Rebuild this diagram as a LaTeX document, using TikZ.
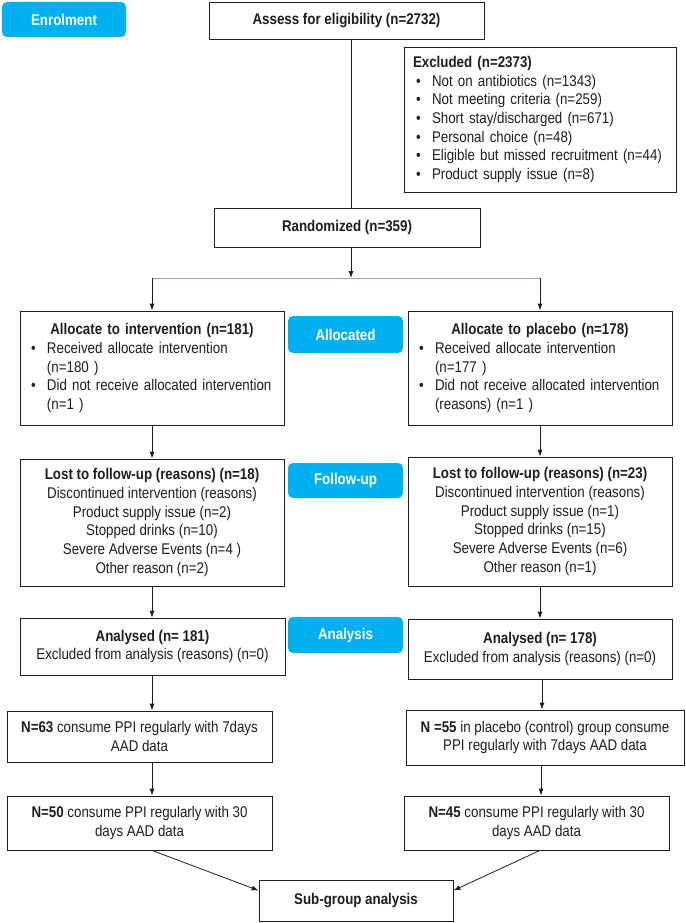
\documentclass[tikz,border=0pt]{standalone}
\usepackage{fontspec}
\setmainfont{Liberation Sans}[FakeStretch=0.86]
\usetikzlibrary{arrows.meta,calc}
\definecolor{labc}{HTML}{00B0F0}
\definecolor{ink}{HTML}{1E1E1E}
\definecolor{bline}{HTML}{8EAADB}
\newcommand\blt{\hspace*{3pt}\makebox[16pt][l]{\textbullet}}
\newcommand\ind{\hspace*{19pt}}
\newcommand\ctr[1]{\makebox[\linewidth][c]{#1}}
\begin{document}
\begin{tikzpicture}[x=1pt,y=-1pt,
  font=\fontsize{15.5}{18.7}\selectfont,
  box/.style={draw=ink, line width=0.8pt, text=ink, inner sep=0pt, fill=white},
  labbox/.style={fill=labc, rounded corners=5pt, text=white, inner sep=0pt,
     font=\fontsize{15.5}{17}\selectfont\bfseries},
  arr/.style={draw=ink, line width=0.8pt, -{Latex[length=7pt,width=5pt]}},
  ln/.style={draw=ink, line width=0.8pt}]
\useasboundingbox (0,0) rectangle (685,923);

% stage labels
\node[labbox, minimum width=124, minimum height=35] (enrol) at (64,19.5) {Enrolment};
\node[labbox, minimum width=115, minimum height=37] (allocated) at (345.5,334.5) {Allocated};
\node[labbox, minimum width=115, minimum height=35] (followup) at (345.5,480.5) {Follow-up};
\node[labbox, minimum width=115, minimum height=36] (analysis) at (345.5,635) {Analysis};

% boxes
\node[box, minimum width=275, minimum height=37] (assess) at (346.5,20.5) {\textbf{Assess for eligibility (n=2732)}};
\node[box, minimum width=272, minimum height=145, text width=254, align=left] (excl) at (540,119.5)
 {\textbf{Excluded (n=2373)}\\
  \blt Not on antibiotics (n=1343)\\
  \blt Not meeting criteria (n=259)\\
  \blt Short stay/discharged (n=671)\\
  \blt Personal choice (n=48)\\
  \blt Eligible but missed recruitment (n=44)\\
  \blt Product supply issue (n=8)};
\node[box, minimum width=266, minimum height=39] (rand) at (347,227.5) {\textbf{Randomized (n=359)}};

\node[box, minimum width=264, minimum height=114, text width=248, align=left] (allocL) at (152,368)
 {\ctr{\textbf{Allocate to intervention (n=181)}}\\
  \blt Received allocate intervention\\
  \ind (n=180 )\\
  \blt Did not receive allocated intervention\\
  \ind (n=1 )};
\node[box, minimum width=264, minimum height=114, text width=248, align=left] (allocR) at (540,368)
 {\ctr{\textbf{Allocate to placebo (n=178)}}\\
  \blt Received allocate intervention\\
  \ind (n=177 )\\
  \blt Did not receive allocated intervention\\
  \ind (reasons) (n=1 )};

\node[box, minimum width=264, minimum height=127, align=center] (lostL) at (152,522.5)
 {\textbf{Lost to follow-up (reasons) (n=18)}\\
  Discontinued intervention (reasons)\\
  Product supply issue (n=2)\\
  Stopped drinks (n=10)\\
  Severe Adverse Events (n=4 )\\
  Other reason (n=2)};
\node[box, minimum width=264, minimum height=129, align=center] (lostR) at (540,521.5)
 {\textbf{Lost to follow-up (reasons) (n=23)}\\
  Discontinued intervention (reasons)\\
  Product supply issue (n=1)\\
  Stopped drinks (n=15)\\
  Severe Adverse Events (n=6)\\
  Other reason (n=1)};

\node[box, minimum width=265, minimum height=57, align=center] (anaL) at (152.5,646.5)
 {\textbf{Analysed (n= 181)}\\ Excluded from analysis (reasons) (n=0)};
\node[box, minimum width=264, minimum height=60, align=center] (anaR) at (540,649)
 {\textbf{Analysed (n= 178)}\\ Excluded from analysis (reasons) (n=0)};

\node[box, minimum width=265, minimum height=51, align=center] (n63) at (139.5,736.5)
 {\textbf{N=63} consume PPI regularly with 7days\\ AAD data};
\node[box, minimum width=278, minimum height=55, align=center] (n55) at (545,737.5)
 {\textbf{N =55} in placebo (control) group consume\\ PPI regularly with 7days AAD data};
\node[box, minimum width=265, minimum height=54, align=center] (n50) at (139.5,823)
 {\textbf{N=50} consume PPI regularly with 30\\ days AAD data};
\node[box, minimum width=265, minimum height=54, align=center] (n45) at (536.5,823)
 {\textbf{N=45} consume PPI regularly with 30\\ days AAD data};
\node[box, minimum width=194, minimum height=41] (sub) at (356,900.5) {\textbf{Sub-group analysis}};

% connectors
\coordinate (sm) at (351,278);
\coordinate (sl) at (152,278);
\coordinate (sr) at (540,278);
\draw[ln] (assess.south -| sm) -- (rand.north -| sm);
\draw[arr] (rand.south -| sm) -- (sm);
\draw[bline, line width=1pt] (sl) -- (sr);
\draw[arr] (sl) -- (allocL.north);
\draw[arr] (sr) -- (allocR.north);
\draw[arr] (allocL.south) -- (lostL.north);
\draw[arr] (allocR.south) -- (lostR.north);
\draw[arr] (lostL.south) -- (lostL.south |- anaL.north);
\draw[arr] (lostR.south) -- (anaR.north);
\draw[arr] (lostL.south |- anaL.south) -- (lostL.south |- n63.north);
\draw[arr] ([xshift=2pt]anaR.south) -- ([xshift=2pt]anaR.south |- n55.north);
\draw[arr] (lostL.south |- n63.south) -- (lostL.south |- n50.north);
\draw[arr] ([xshift=1pt]anaR.south |- n55.south) -- ([xshift=1pt]anaR.south |- n45.north);
\draw[arr] (lostL.south |- n50.south) -- ([yshift=10pt]sub.west);
\draw[arr] (allocR.south |- n45.south) -- ([yshift=10pt]sub.east);
\end{tikzpicture}
\end{document}
